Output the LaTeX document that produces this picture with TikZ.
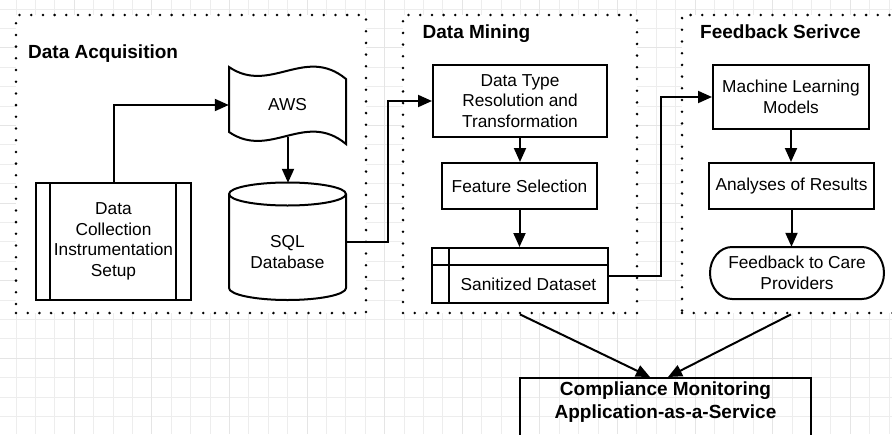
\documentclass[tikz,border=0pt]{standalone}
\usepackage{fontspec}
\setmainfont{Liberation Sans}
\usetikzlibrary{arrows.meta,calc}
\newcommand\dgboxfont{\fontsize{17.3pt}{20.6pt}\selectfont}
\newcommand\dgtitlefont{\fontsize{19pt}{22.5pt}\selectfont\bfseries}
\begin{document}
\begin{tikzpicture}[x=1pt,y=-1pt,
  box/.style={draw, line width=2pt, fill=white, align=center, font=\dgboxfont, inner sep=2pt},
  plain/.style={align=center, font=\dgboxfont, inner sep=0pt},
  frame/.style={draw, line width=2.8pt, line cap=round, dash pattern=on 0pt off 11.7pt, fill=white, inner sep=0pt},
  title/.style={font=\dgtitlefont, anchor=base west, inner sep=0pt},
  arr/.style={line width=2pt, -{Triangle[length=14pt,width=12pt]}},
  conn/.style={line width=2pt},
  shp/.style={draw, line width=2pt, fill=white},
  gridminor/.style={black!7, line width=0.8pt},
  gridmajor/.style={black!10, line width=0.8pt}]
\useasboundingbox (0,0) rectangle (892,434);
\fill[white] (0,0) rectangle (892,434);
% background grid
\foreach \i in {-1,...,45} { \draw[gridminor] ({16+19.4*\i},0) -- ({16+19.4*\i},434); }
\foreach \j in {0,...,22} { \draw[gridminor] (0,{8.9+19.4*\j}) -- (892,{8.9+19.4*\j}); }
\foreach \i in {-1,3,...,43} { \draw[gridmajor] ({16+19.4*\i},0) -- ({16+19.4*\i},434); }
\foreach \j in {2,6,...,22} { \draw[gridmajor] (0,{8.9+19.4*\j}) -- (892,{8.9+19.4*\j}); }

% frames
\node[frame, minimum width=350pt, minimum height=298pt] (da) at (191,164) {};
\node[frame, minimum width=234pt, minimum height=298pt] (dm) at (520,164) {};
\node[frame, minimum width=218pt, minimum height=298pt] (fbf) at (791,164) {};

% titles
\node[title] (t1) at (28,58.5) {Data Acquisition};
\node[title] (t2) at (422.5,38.5) {Data Mining};
\node[title] (t3) at (700,38.5) {Feedback Serivce};

% Data acquisition
\node[box, minimum width=155pt, minimum height=117pt] (dc) at (113.5,241.5) {Data\\Collection\\Instrumentation\\Setup};
\draw[conn] ([xshift=15pt]dc.north west) -- ([xshift=15pt]dc.south west);
\draw[conn] ([xshift=-16pt]dc.north east) -- ([xshift=-16pt]dc.south east);

\draw[shp] (229,67) .. controls (270,95) and (305,45) .. (346,79) -- (346,144) .. controls (305,110) and (270,160) .. (229,132) -- cycle;
\node[plain, minimum width=117pt, minimum height=64pt] (aws) at (287.5,105) {AWS};
\coordinate (awsb) at (288,136.5);

\draw[shp] (229,194) -- (229,288) arc[start angle=180,end angle=360,x radius=58.5pt,y radius=12pt] -- (346,194) arc[start angle=0,end angle=180,x radius=58.5pt,y radius=11.5pt] -- cycle;
\draw[conn] (229,194) arc[start angle=180,end angle=360,x radius=58.5pt,y radius=11.5pt];
\node[plain, minimum width=117pt, minimum height=117pt] (db) at (287.5,241.5) {};
\node[plain] (dbt) at (287.5,252) {SQL\\Database};

% Data mining
\node[box, minimum width=174pt, minimum height=72pt] (dt) at (520,101) {Data Type\\Resolution and\\Transformation};
\node[box, minimum width=155pt, minimum height=46pt] (fs) at (519.5,186) {Feature Selection};
\node[box, minimum width=176pt, minimum height=55pt] (san) at (520,275.5) {};
\draw[conn] ([yshift=-18pt]san.north west) -- ([yshift=-18pt]san.north east);
\draw[conn] ([xshift=17.5pt]san.north west) -- ([xshift=17.5pt]san.south west);
\node[plain] (sant) at (528.5,284.5) {Sanitized Dataset};

% Feedback service
\node[box, minimum width=156pt, minimum height=64pt] (ml) at (791,97) {Machine Learning\\Models};
\node[box, minimum width=165pt, minimum height=46pt] (an) at (791.5,186) {Analyses of Results};
\draw[shp] (732,247) -- (862,247) arc[start angle=90,end angle=-90,x radius=22pt,y radius=26pt] -- (732,299) arc[start angle=270,end angle=90,x radius=22pt,y radius=26pt] -- cycle;
\node[plain, minimum width=174pt, minimum height=52pt] (fb) at (797,273) {Feedback to Care\\Providers};

% Compliance box
\node[draw, line width=2pt, minimum width=291pt, minimum height=80pt, anchor=north, inner sep=0pt] (cm) at (665.5,377) {};
\node[font=\dgtitlefont, align=center, inner sep=0pt] (cmt) at (665.5,402) {Compliance Monitoring\\Application-as-a-Service};

% connectors
\draw[arr] (dc.north) |- (aws.west);
\draw[arr] (awsb) -- (awsb |- db.north);
\draw[arr] (db.east) -- ++(42pt,0) |- (dt.west);
\draw[arr] (dt.south) -- (dt.south |- fs.north);
\draw[arr] (fs.south) -- (fs.south |- san.north);
\draw[arr] (san.east) -- ++(52pt,0) |- (ml.west);
\draw[arr] (ml.south) -- (ml.south |- an.north);
\draw[arr] (an.south) -- (an.south |- fb.north);
\draw[arr] (dm.south) -- ([xshift=-15.5pt]cm.north);
\draw[arr] (fbf.south) -- ([xshift=2.5pt]cm.north);
\end{tikzpicture}
\end{document}
